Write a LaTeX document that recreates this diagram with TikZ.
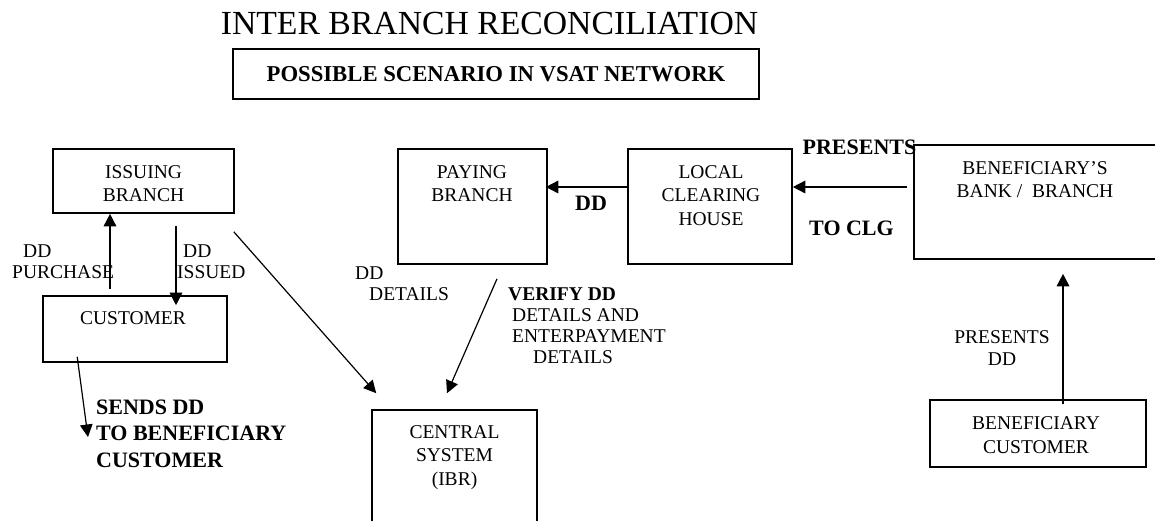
\documentclass[tikz,border=0pt]{standalone}
\usepackage{fontspec}
\setmainfont{Liberation Serif}
\usetikzlibrary{arrows.meta}
\begin{document}
\begin{tikzpicture}[x=1pt,y=-1pt,
  box/.style={draw, line width=1.6pt, inner sep=0pt},
  txt/.style={font=\fontsize{19.5}{23.5}\selectfont, align=center, inner sep=0pt},
  lbl/.style={font=\fontsize{19.5}{21}\selectfont, align=left, inner sep=0pt},
  blbl/.style={font=\bfseries\fontsize{22}{26.5}\selectfont, align=left, inner sep=0pt},
  arr/.style={line width=1.6pt, -{Triangle[length=12.5pt,width=12.5pt]}},
  thin arr/.style={line width=1.2pt, -{Triangle[length=12.5pt,width=12.5pt]}},
]
\useasboundingbox (0,0) rectangle (1155,520);
\clip (0,0) rectangle (1155,520);

% heading
\node[inner sep=0pt, font=\fontsize{33.7}{40}\selectfont] (title) at (489.5,24) {INTER BRANCH RECONCILIATION};
\node[box, minimum width=526, minimum height=50, font=\bfseries\fontsize{22.7}{27}\selectfont] (scn) at (496,74) {POSSIBLE SCENARIO IN VSAT NETWORK};

% boxes
\node[box, minimum width=181, minimum height=64] (iss) at (143.5,181) {};
\node[txt] at (143.5,183.5) {ISSUING\\BRANCH};

\node[box, minimum width=184, minimum height=66] (cust) at (135,329) {};
\node[txt] at (133,318) {CUSTOMER};

\node[box, minimum width=149, minimum height=115] (pay) at (472.5,206.5) {};
\node[txt] at (472,183.5) {PAYING\\BRANCH};

\node[box, minimum width=164, minimum height=115] (lch) at (710,206.5) {};
\node[txt] at (711,195.5) {LOCAL\\CLEARING\\HOUSE};

\node[box, minimum width=256, minimum height=114] (bank) at (1042,202) {};
\node[txt] at (1035,179.5) {BENEFICIARY’S\\BANK /\ \ BRANCH};

\node[box, minimum width=165, minimum height=130] (cent) at (454.5,475) {};
\node[txt] at (454.5,457.5) {CENTRAL\\SYSTEM\\(IBR)};

\node[box, minimum width=216, minimum height=67] (bcust) at (1038,433.5) {};
\node[txt] at (1036,435) {BENEFICIARY\\CUSTOMER};

% labels
\node[lbl, anchor=west] (purch) at (12,262) {\hspace*{11pt}DD\\PURCHASE};
\node[lbl, anchor=west] (issued) at (177,262) {\hspace*{6pt}DD\\ISSUED};
\node[lbl, anchor=west] (ddet) at (355,283.5) {DD\\\hspace*{14pt}DETAILS};
\node[lbl, anchor=west] (verify) at (508,326) {\textbf{VERIFY DD}\\\hspace*{4pt}DETAILS AND\\\hspace*{4pt}ENTERPAYMENT\\\hspace*{25pt}DETAILS};
\node[blbl, anchor=west] (sends) at (96,433.5) {SENDS DD\\TO BENEFICIARY\\CUSTOMER};
\node[blbl] (dd) at (591,203) {DD};
\node[blbl] (pres) at (859.5,147) {PRESENTS};
\node[blbl] (toclg) at (851.5,228) {TO CLG};
\node[lbl, align=center, font=\fontsize{19.5}{22}\selectfont] (presdd) at (1002,348) {PRESENTS\\DD};

% connectors
\draw[arr] ([xshift=-25pt,yshift=6pt]cust.north) -- ([xshift=-33.5pt]iss.south);
\draw[arr] ([xshift=32.5pt,yshift=-12pt]iss.south) -- ([xshift=41pt,yshift=-10pt]cust.north);
\draw[thin arr] ([xshift=-1pt,yshift=-18pt]iss.south east) -- ([xshift=5pt,yshift=16pt]cent.north west);
\draw[thin arr] ([xshift=35pt,yshift=6pt]cust.south west) -- ([xshift=-8pt,yshift=-3.5pt]sends.west);
\draw[arr] ([yshift=19.5pt]lch.west) -- ([xshift=-2pt,yshift=19.5pt]pay.east);
\draw[arr] ([xshift=-6pt,yshift=15pt]bank.west) -- ([yshift=19.5pt]lch.east);
\draw[thin arr] ([xshift=24.5pt,yshift=-14pt]pay.south) -- ([xshift=-7.5pt,yshift=16pt]cent.north);
\draw[arr] ([xshift=25pt,yshift=-5pt]bcust.north) -- ([xshift=21pt,yshift=-14pt]bank.south);
\end{tikzpicture}
\end{document}
